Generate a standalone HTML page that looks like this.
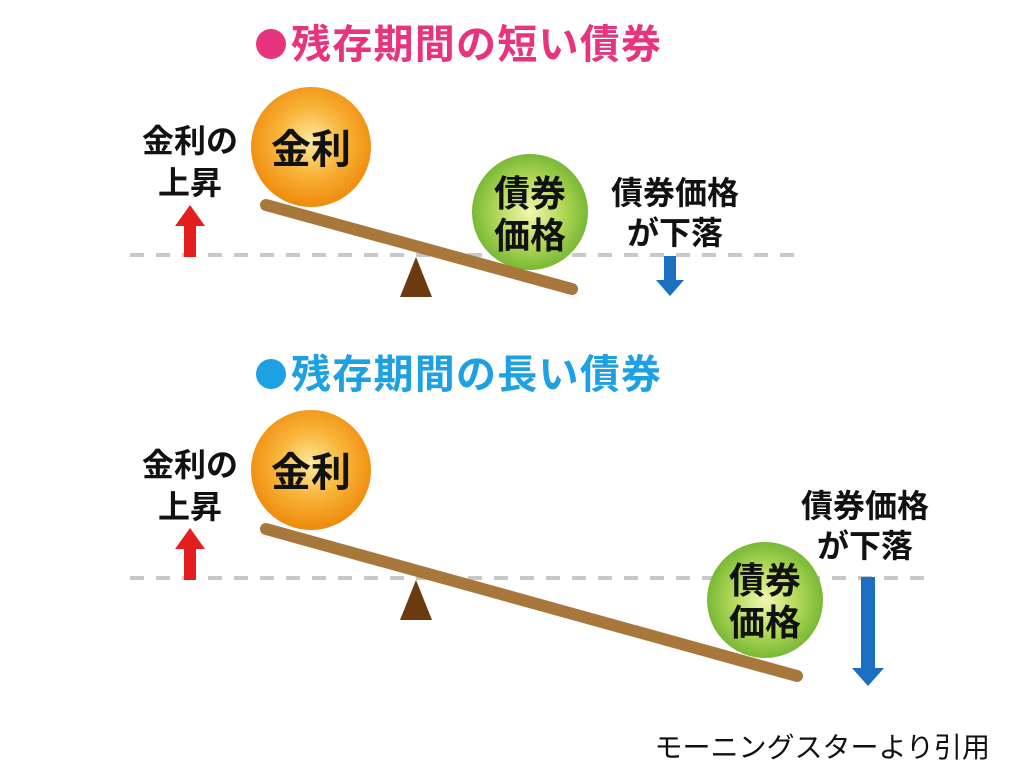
<!DOCTYPE html>
<html><head><meta charset="utf-8"><style>
html,body{margin:0;padding:0;background:#fff;}
svg{display:block;font-family:"Liberation Sans","Noto Sans CJK JP",sans-serif;}
</style></head><body>
<svg width="1024" height="771" viewBox="0 0 1024 771">
<defs>
<radialGradient id="og" cx="50%" cy="45%" r="55%"><stop offset="0" stop-color="#fde9a0"/><stop offset="0.5" stop-color="#f8b53a"/><stop offset="1" stop-color="#ef8a0c"/></radialGradient>
<radialGradient id="gg" cx="50%" cy="50%" r="55%"><stop offset="0" stop-color="#f2f7b0"/><stop offset="0.5" stop-color="#b5d95a"/><stop offset="1" stop-color="#6bb22e"/></radialGradient>
</defs>
<!-- top -->
<circle cx="271" cy="44" r="15" fill="#e8337f"/>
<text x="291" y="58" font-size="40" font-weight="bold" fill="#e8337f" textLength="370">残存期間の短い債券</text>
<line x1="130" y1="255" x2="805" y2="255" stroke="#c8c8c8" stroke-width="4" stroke-dasharray="14 12"/>
<circle cx="311" cy="147" r="60" fill="url(#og)"/>
<text x="311" y="163" font-size="40" font-weight="bold" text-anchor="middle" fill="#111">金利</text>
<polygon points="416,257 400,297 432,297" fill="#6b3a10"/>
<circle cx="530" cy="212" r="58" fill="url(#gg)"/>
<text x="530" y="206" font-size="36" font-weight="bold" text-anchor="middle" fill="#111">債券</text>
<text x="530" y="248" font-size="36" font-weight="bold" text-anchor="middle" fill="#111">価格</text>
<line x1="266" y1="205" x2="572" y2="289" stroke="#a8773c" stroke-width="12" stroke-linecap="round"/>
<text x="190" y="152" font-size="32" font-weight="bold" text-anchor="middle" fill="#111">金利の</text>
<text x="190" y="194" font-size="32" font-weight="bold" text-anchor="middle" fill="#111">上昇</text>
<polygon points="184,257 196,257 196,226 205,226 190,205 175,226 184,226" fill="#e31e1e"/>
<text x="675" y="204" font-size="32" font-weight="bold" text-anchor="middle" fill="#111">債券価格</text>
<text x="675" y="244" font-size="32" font-weight="bold" text-anchor="middle" fill="#111">が下落</text>
<polygon points="664,256 676,256 676,280 684,280 670,296 656,280 664,280" fill="#1a6fc0"/>
<!-- bottom -->
<circle cx="271" cy="374" r="15" fill="#1ea1e2"/>
<text x="291" y="388" font-size="40" font-weight="bold" fill="#1ea1e2" textLength="370">残存期間の長い債券</text>
<line x1="130" y1="578" x2="930" y2="578" stroke="#c8c8c8" stroke-width="4" stroke-dasharray="14 12"/>
<circle cx="311" cy="470" r="60" fill="url(#og)"/>
<text x="311" y="486" font-size="40" font-weight="bold" text-anchor="middle" fill="#111">金利</text>
<polygon points="416,580 400,620 432,620" fill="#6b3a10"/>
<circle cx="765" cy="600" r="58" fill="url(#gg)"/>
<text x="765" y="593" font-size="36" font-weight="bold" text-anchor="middle" fill="#111">債券</text>
<text x="765" y="635" font-size="36" font-weight="bold" text-anchor="middle" fill="#111">価格</text>
<line x1="266" y1="529" x2="797" y2="676" stroke="#a8773c" stroke-width="12" stroke-linecap="round"/>
<text x="190" y="476" font-size="32" font-weight="bold" text-anchor="middle" fill="#111">金利の</text>
<text x="190" y="518" font-size="32" font-weight="bold" text-anchor="middle" fill="#111">上昇</text>
<polygon points="184,580 196,580 196,549 205,549 190,528 175,549 184,549" fill="#e31e1e"/>
<text x="865" y="517" font-size="32" font-weight="bold" text-anchor="middle" fill="#111">債券価格</text>
<text x="865" y="557" font-size="32" font-weight="bold" text-anchor="middle" fill="#111">が下落</text>
<polygon points="861,577 875,577 875,668 884,668 868,686 852,668 861,668" fill="#1a6fc0"/>
<text x="990" y="757" font-size="28" text-anchor="end" fill="#111">モーニングスターより引用</text>
</svg>
</body></html>
